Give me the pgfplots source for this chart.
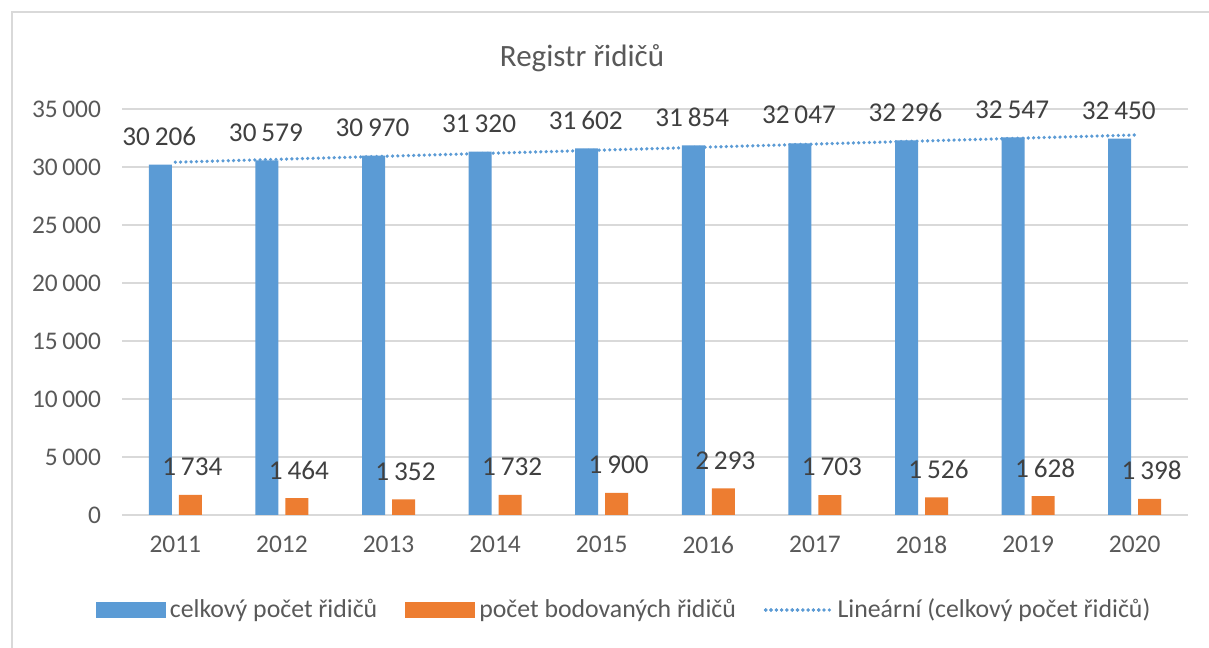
\documentclass[border=0pt]{standalone}
\usepackage{pgfplots}
\pgfplotsset{compat=1.18}
\usepackage{fontspec}
\setmainfont{Carlito}
\definecolor{cblue}{HTML}{5B9BD5}
\definecolor{corange}{HTML}{ED7D31}
\definecolor{cgrid}{HTML}{D9D9D9}
\definecolor{ctext}{HTML}{595959}
\definecolor{clab}{HTML}{404040}
\begin{document}
\begin{tikzpicture}
\fill[white] (0,0) rectangle (604.5bp,324bp);
\begin{axis}[
  at={(61bp,66.5bp)}, anchor=south west,
  scale only axis, width=533bp, height=203bp,
  xmin=-0.5, xmax=9.5, ymin=0, ymax=35000,
  xtick={0,...,9},
  xticklabels={2011,2012,2013,2014,2015,2016,2017,2018,2019,2020},
  ytick={0,5000,...,35000},
  scaled y ticks=false,
  /pgf/number format/.cd, fixed, precision=0, 1000 sep={\hspace{0.18em}}, assume math mode=true,
  /pgfplots/.cd,
  axis line style={draw=none},
  major tick length=0pt,
  ymajorgrids,
  grid style={cgrid, line width=0.9bp},
  ticklabel style={font=\fontsize{12.7bp}{15bp}\selectfont, text=ctext},
  yticklabel style={anchor=east, xshift=-7bp},
  xticklabel style={yshift=-7bp},
  legend columns=3,
  legend style={at={(0.472,-0.234)}, anchor=center, draw=none, fill=none,
    font=\fontsize{12.9bp}{15bp}\selectfont, text=ctext,
    /tikz/every even column/.append style={column sep=12bp}},
  legend cell align=left,
]
\addplot[ybar, bar width=11.5bp, bar shift=-7.5bp, fill=cblue, draw=none,
  nodes near coords,
  every node near coord/.append style={font=\fontsize{13.6bp}{16bp}\selectfont, text=clab, anchor=center, yshift=14bp, xshift=-8bp},
  legend image code/.code={\fill[cblue] (0bp,-4bp) rectangle (35bp,4bp);}]
 coordinates {(0,30206) (1,30579) (2,30970) (3,31320) (4,31602) (5,31854) (6,32047) (7,32296) (8,32547) (9,32450)};
\addlegendentry{celkový počet řidičů}
\addplot[ybar, bar width=11.5bp, bar shift=7.5bp, fill=corange, draw=none,
  nodes near coords,
  every node near coord/.append style={font=\fontsize{13.6bp}{16bp}\selectfont, text=clab, anchor=center, yshift=14bp, xshift=8.5bp},
  legend image code/.code={\fill[corange] (0bp,-4bp) rectangle (35bp,4bp);}]
 coordinates {(0,1734) (1,1464) (2,1352) (3,1732) (4,1900) (5,2293) (6,1703) (7,1526) (8,1628) (9,1398)};
\addlegendentry{počet bodovaných řidičů}
\addplot[cblue, line width=1.8bp, line cap=round, dash pattern=on 0pt off 2.65bp,
  legend image code/.code={\draw[cblue, line width=1.8bp, line cap=round, dash pattern=on 0pt off 2.65bp] (0bp,0bp) -- (29bp,0bp);\path (0bp,0bp) -- (33bp,0bp);}]
 coordinates {(0,30413) (9,32761)};
\addlegendentry{Lineární (celkový počet řidičů)}
\end{axis}
\draw[cgrid, line width=0.9bp] (6bp,0bp) -- (6bp,318bp) -- (604.5bp,318bp);
\node[font=\fontsize{15.5bp}{18bp}\selectfont, text=ctext] at (291bp,295bp) {Registr řidičů};
\pgfresetboundingbox
\path[use as bounding box] (0,0) rectangle (604.5bp,324bp);
\end{tikzpicture}
\end{document}
